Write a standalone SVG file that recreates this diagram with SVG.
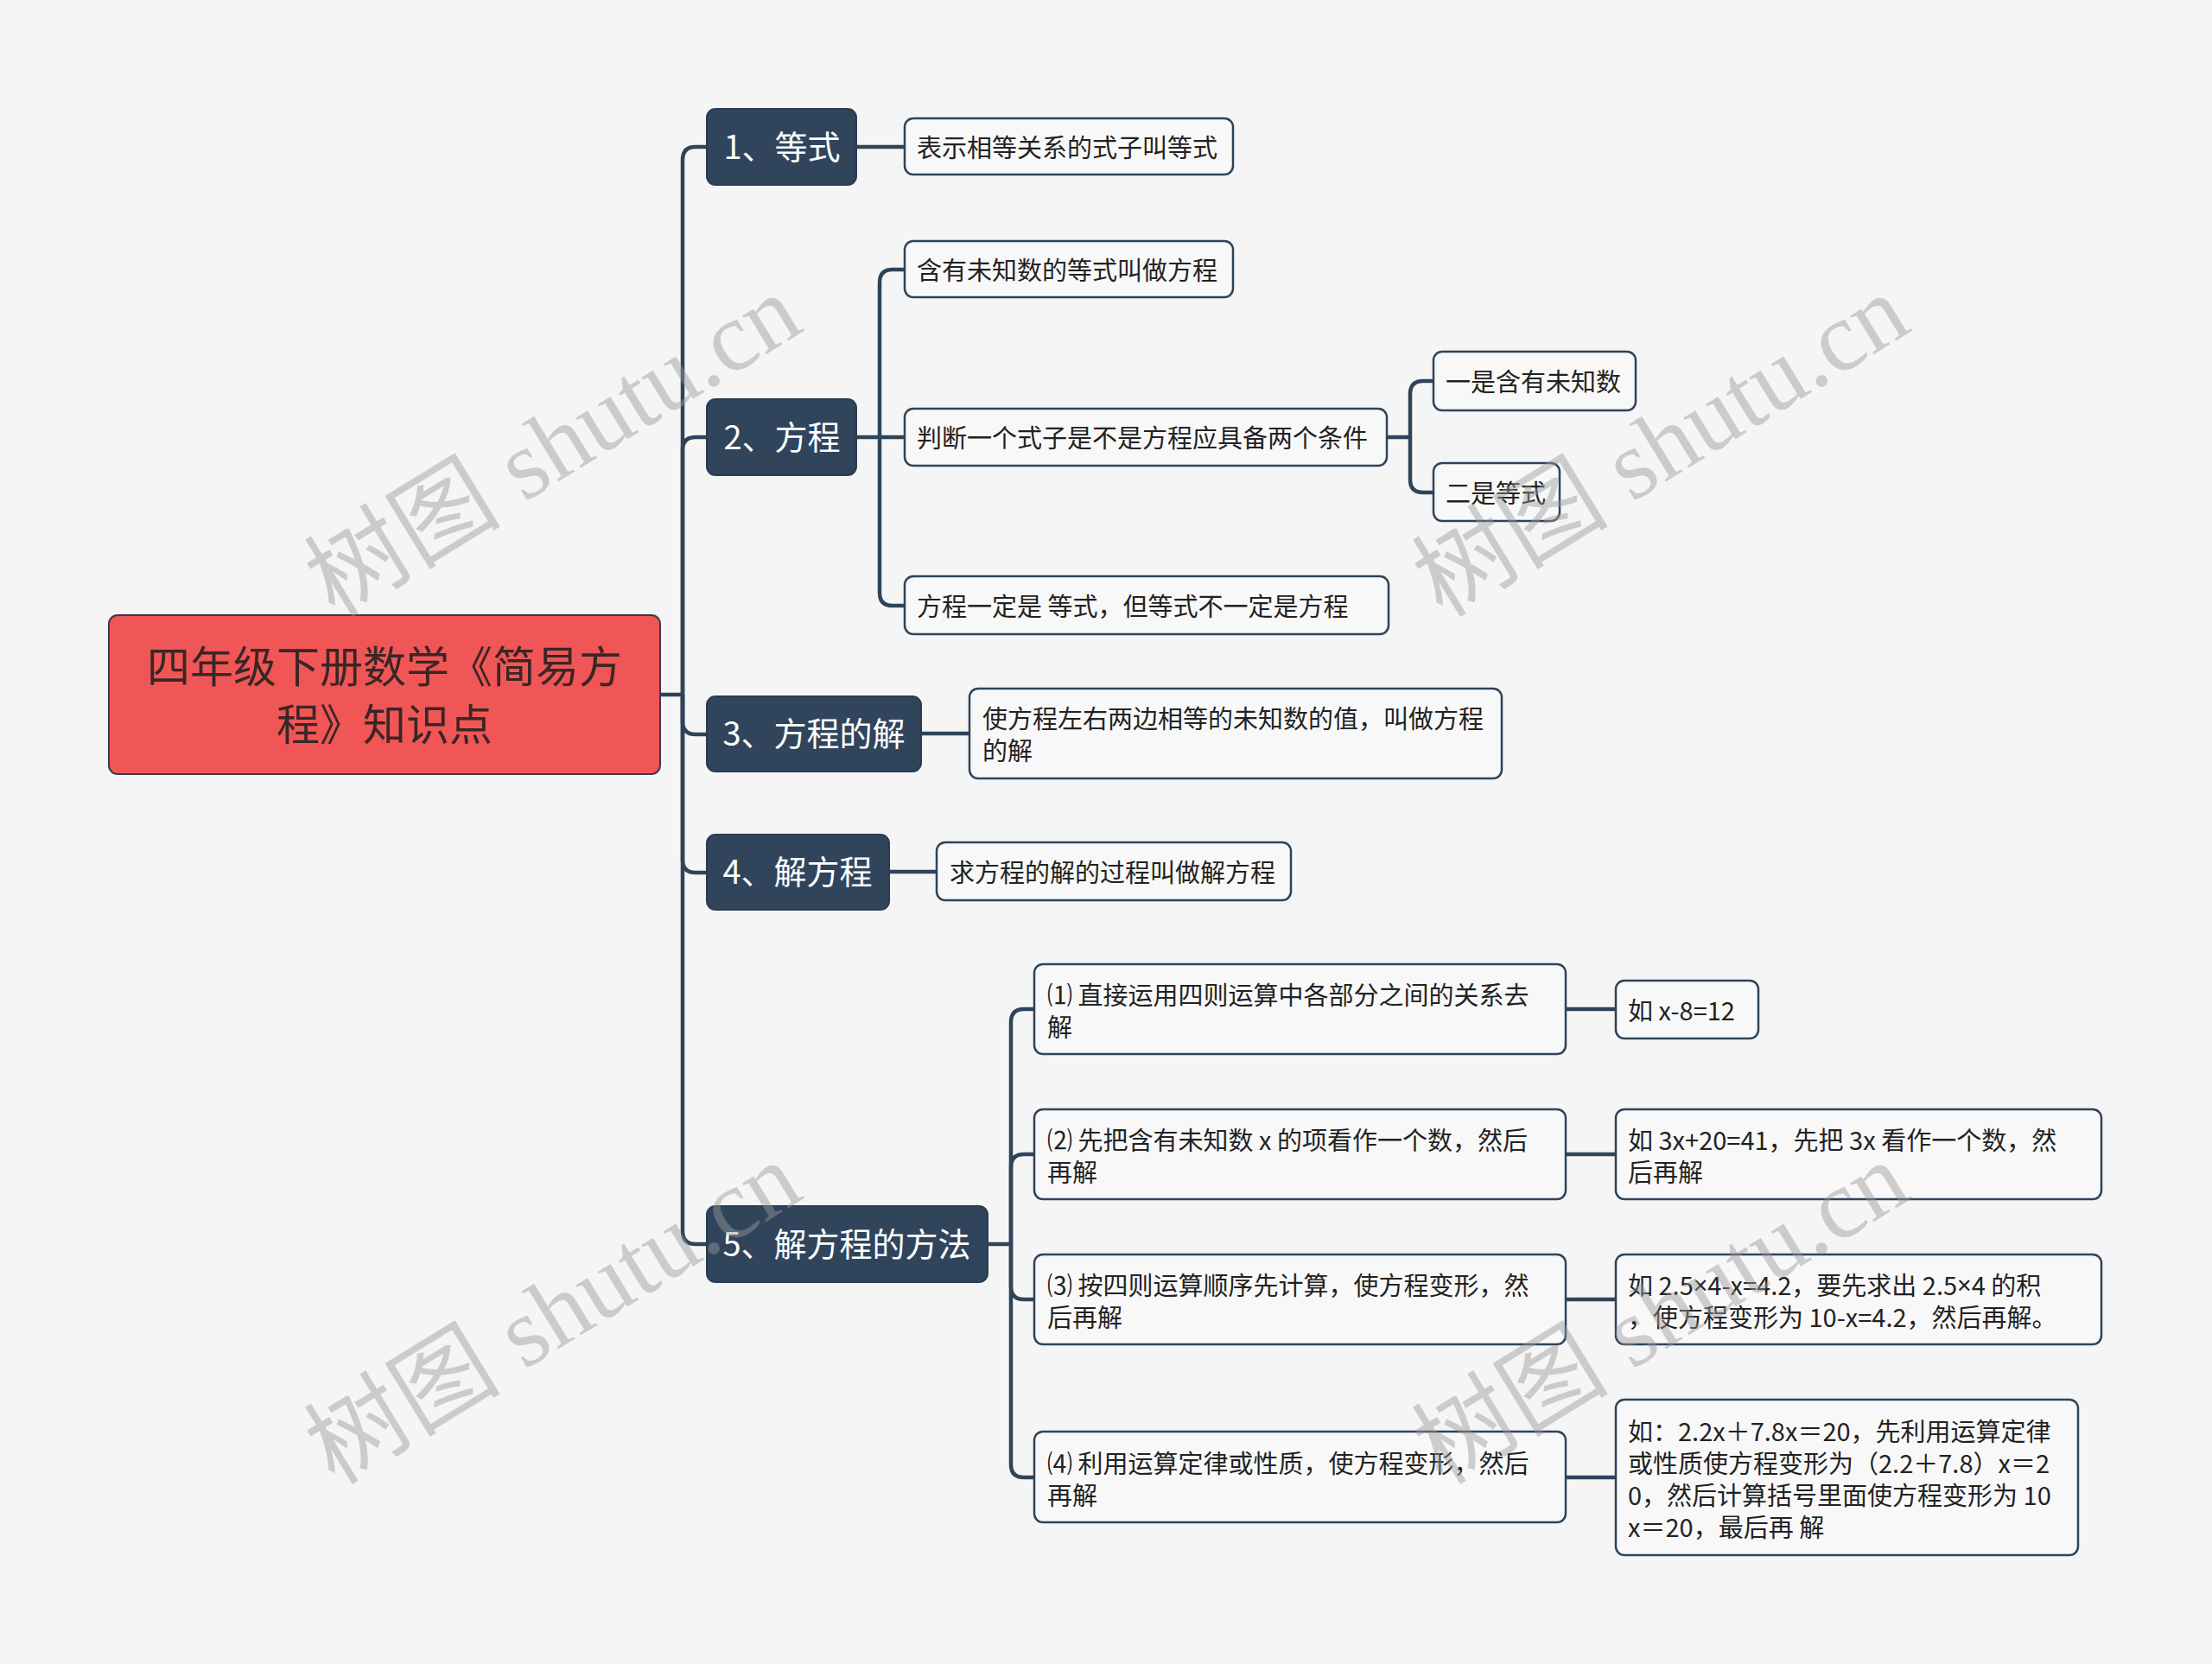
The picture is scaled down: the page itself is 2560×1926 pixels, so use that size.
<svg xmlns="http://www.w3.org/2000/svg" width="2560" height="1926" viewBox="0 0 2560 1926">
<style>
.bg{fill:#F5F5F5}
.root rect{fill:#F05656;stroke:#3A3A4A;stroke-width:2}
.root text{fill:#3A2626;font-size:50px}
.l1 rect{fill:#30455C;stroke:#2A3C50;stroke-width:2}
.l1 text{fill:#FFFFFF;font-size:38px;text-anchor:middle}
.l2 rect{fill:#F8F8F8;stroke:#2F4459;stroke-width:2.5}
.l2 text{fill:#222222;font-size:29px}
text{font-family:"Noto Sans CJK SC","Noto Sans",sans-serif;dominant-baseline:central}
.lat{font-family:"Noto Sans",sans-serif}
.conn path{fill:none;stroke:#2F4459;stroke-width:4.5;stroke-linejoin:round}
.wm text{font-family:"Liberation Serif","Noto Sans CJK SC",serif;font-size:114px;fill:#999999;fill-opacity:0.45;text-anchor:middle}
</style>
<rect class="bg" x="0" y="0" width="2560" height="1926"/>

<g id="connectors" class="conn">
<path d="M764,804 H790 V185 Q790,170 805,170 H818"/>
<path d="M790,804 V521 Q790,506 805,506 H818"/>
<path d="M790,804 V835 Q790,850 805,850 H818"/>
<path d="M790,804 V995 Q790,1010 805,1010 H818"/>
<path d="M790,804 V1425 Q790,1440 805,1440 H818"/>
<path d="M991,170 H1047"/>
<path d="M991,506 H1047"/>
<path d="M1018,506 V327 Q1018,312 1033,312 H1047"/>
<path d="M1018,506 V686 Q1018,701 1033,701 H1047"/>
<path d="M1605,506 H1632 V456 Q1632,441 1647,441 H1659"/>
<path d="M1632,506 V555 Q1632,570 1647,570 H1659"/>
<path d="M1066,849 H1122"/>
<path d="M1029,1009 H1084"/>
<path d="M1143,1440 H1170 V1183 Q1170,1168 1185,1168 H1197"/>
<path d="M1170,1440 V1351 Q1170,1336 1185,1336 H1197"/>
<path d="M1170,1440 V1489 Q1170,1504 1185,1504 H1197"/>
<path d="M1170,1440 V1695 Q1170,1710 1185,1710 H1197"/>
<path d="M1812,1168 H1870"/>
<path d="M1812,1336 H1870"/>
<path d="M1812,1504 H1870"/>
<path d="M1812,1710 H1870"/>
</g>

<g id="root" class="root">
<rect x="126" y="712" width="638" height="184" rx="10"/>
<text x="445" y="768" text-anchor="middle">四年级下册数学《简易方</text>
<text x="445" y="835" text-anchor="middle">程》知识点</text>
</g>

<g id="n1" class="l1"><rect x="818" y="126" width="173" height="88" rx="10"/><text x="905" y="167">1、等式</text></g>
<g id="n2" class="l1"><rect x="818" y="462" width="173" height="88" rx="10"/><text x="905" y="503">2、方程</text></g>
<g id="n3" class="l1"><rect x="818" y="806" width="248" height="87" rx="10"/><text x="942" y="846">3、方程的解</text></g>
<g id="n4" class="l1"><rect x="818" y="966" width="211" height="87" rx="10"/><text x="923" y="1006">4、解方程</text></g>
<g id="n5" class="l1"><rect x="818" y="1396" width="325" height="88" rx="10"/><text x="980" y="1437">5、解方程的方法</text></g>

<g id="n1a" class="l2"><rect x="1047" y="137" width="380" height="65" rx="10"/><text x="1061" y="169">表示相等关系的式子叫等式</text></g>
<g id="n2a" class="l2"><rect x="1047" y="279" width="380" height="65" rx="10"/><text x="1061" y="311">含有未知数的等式叫做方程</text></g>
<g id="n2b" class="l2"><rect x="1047" y="473" width="558" height="66" rx="10"/><text x="1061" y="505">判断一个式子是不是方程应具备两个条件</text></g>
<g id="n2b1" class="l2"><rect x="1659" y="407" width="234" height="68" rx="10"/><text x="1673" y="440">一是含有未知数</text></g>
<g id="n2b2" class="l2"><rect x="1659" y="536" width="146" height="67" rx="10"/><text x="1673" y="569">二是等式</text></g>
<g id="n2c" class="l2"><rect x="1047" y="667" width="560" height="67" rx="10"/><text x="1061" y="700">方程一定是 等式，但等式不一定是方程</text></g>
<g id="n3a" class="l2"><rect x="1122" y="797" width="616" height="104" rx="10"/><text x="1137" y="830">使方程左右两边相等的未知数的值，叫做方程</text><text x="1137" y="867">的解</text></g>
<g id="n4a" class="l2"><rect x="1084" y="975" width="410" height="67" rx="10"/><text x="1099" y="1008">求方程的解的过程叫做解方程</text></g>

<g id="n5a" class="l2"><rect x="1197" y="1116" width="615" height="104" rx="10"/><text x="1212" y="1150">⑴ 直接运用四则运算中各部分之间的关系去</text><text x="1212" y="1187">解</text></g>
<g id="n5b" class="l2"><rect x="1197" y="1284" width="615" height="104" rx="10"/><text x="1212" y="1318">⑵ 先把含有未知数 x 的项看作一个数，然后</text><text x="1212" y="1355">再解</text></g>
<g id="n5c" class="l2"><rect x="1197" y="1452" width="615" height="104" rx="10"/><text x="1212" y="1486">⑶ 按四则运算顺序先计算，使方程变形，然</text><text x="1212" y="1523">后再解</text></g>
<g id="n5d" class="l2"><rect x="1197" y="1657" width="615" height="105" rx="10"/><text x="1212" y="1692">⑷ 利用运算定律或性质，使方程变形，然后</text><text x="1212" y="1729">再解</text></g>

<g id="n5a1" class="l2"><rect x="1870" y="1135" width="165" height="67" rx="10"/><text x="1884" y="1168">如 x-8=12</text></g>
<g id="n5b1" class="l2"><rect x="1870" y="1284" width="562" height="104" rx="10"/><text x="1884" y="1318">如 3x+20=41，先把 3x 看作一个数，然</text><text x="1884" y="1355">后再解</text></g>
<g id="n5c1" class="l2"><rect x="1870" y="1452" width="562" height="104" rx="10"/><text x="1884" y="1486">如 2.5<tspan class="lat">×</tspan>4-x=4.2，要先求出 2.5<tspan class="lat">×</tspan>4 的积</text><text x="1884" y="1523">，使方程变形为 10-x=4.2，然后再解。</text></g>
<g id="n5d1" class="l2"><rect x="1870" y="1620" width="535" height="180" rx="10"/><text x="1884" y="1655">如：2.2x＋7.8x＝20，先利用运算定律</text><text x="1884" y="1692">或性质使方程变形为（2.2＋7.8）x＝2</text><text x="1884" y="1729">0，然后计算括号里面使方程变形为 10</text><text x="1884" y="1766">x＝20，最后再 解</text></g>

<g id="watermark" class="wm">
<text transform="translate(640,516) rotate(-31.5)">树图 shutu.cn</text>
<text transform="translate(1922,516) rotate(-31.5)">树图 shutu.cn</text>
<text transform="translate(640,1520) rotate(-31.5)">树图 shutu.cn</text>
<text transform="translate(1922,1520) rotate(-31.5)">树图 shutu.cn</text>
</g>
</svg>
